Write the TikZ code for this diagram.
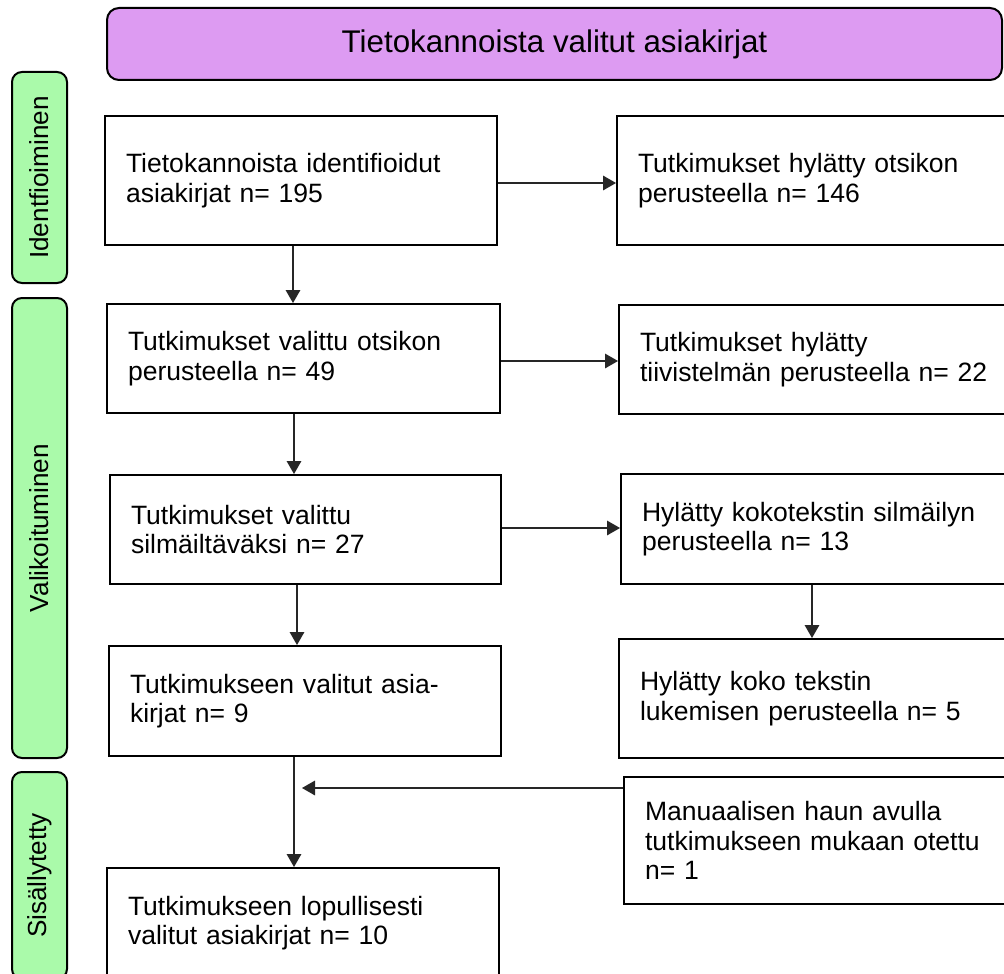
\documentclass[tikz,border=0pt]{standalone}
\usepackage{fontspec}
\setmainfont{Liberation Sans}
\usetikzlibrary{arrows.meta}
\definecolor{purplefill}{RGB}{221,155,242}
\definecolor{greenfill}{RGB}{170,250,170}
\tikzset{
  flowbox/.style={draw=black, line width=1.5pt, fill=white, rectangle, align=left,
    inner xsep=15.75pt, inner ysep=0pt,
    font=\fontsize{19.9pt}{22.1pt}\selectfont},
  phase/.style={draw=black, line width=1.5pt, fill=greenfill, rounded corners=7.5pt,
    rotate=90, minimum height=41.25pt, inner sep=0pt,
    font=\fontsize{19.6pt}{22pt}\selectfont},
  titlebox/.style={draw=black, line width=1.5pt, fill=purplefill, rounded corners=9pt,
    minimum width=671.25pt, minimum height=54pt, inner sep=0pt,
    font=\fontsize{23.5pt}{28pt}\selectfont},
  arr/.style={draw=black!85, line width=0.8pt, -{Triangle[length=9.75pt,width=11pt]}}
}
\begin{document}
\begin{tikzpicture}[x=0.75pt,y=-0.75pt]
\useasboundingbox (0,0) rectangle (1004,974);

% title
\node[titlebox] (title) at (554.5,44) {Tietokannoista valitut asiakirjat};

% phases
\node[phase, minimum width=158.25pt] (g1) at (39.5,177.5) {Identfioiminen};
\node[phase, minimum width=345pt] (g2) at (39.5,528) {Valikoituminen};
\node[phase, minimum width=155.25pt] (g3) at (39.5,875.5) {Sisällytetty};

% left column
\node[flowbox, minimum width=294pt, minimum height=96.75pt, text width=262.5pt] (b1) at (301,180.5)
  {Tietokannoista identifioidut\\asiakirjat n= 195};
\node[flowbox, minimum width=294.75pt, minimum height=81.75pt, text width=263.25pt] (b2) at (303.5,358.5)
  {Tutkimukset valittu otsikon\\perusteella n= 49};
\node[flowbox, minimum width=293.25pt, minimum height=81.75pt, text width=261.75pt] (b3) at (305.5,529.5)
  {Tutkimukset valittu\\silmäiltäväksi n= 27};
\node[flowbox, minimum width=294pt, minimum height=82.5pt, text width=262.5pt] (b4) at (305,701)
  {Tutkimukseen valitut asia-\\kirjat n= 9};
\node[flowbox, minimum width=294pt, minimum height=82.5pt, text width=262.5pt] (b5) at (303,923)
  {Tutkimukseen lopullisesti\\valitut asiakirjat n= 10};

% right column
\node[flowbox, minimum width=294.75pt, minimum height=96.75pt, text width=263.25pt] (r1) at (813.5,180.5)
  {Tutkimukset hylätty otsikon\\perusteella n= 146};
\node[flowbox, minimum width=293.25pt, minimum height=81.75pt, text width=261.75pt] (r2) at (814.5,359.5)
  {Tutkimukset hylätty\\tiivistelmän perusteella n= 22};
\node[flowbox, minimum width=291.75pt, minimum height=82.5pt, text width=260.25pt] (r3) at (815.5,529)
  {Hylätty kokotekstin silmäilyn\\perusteella n= 13};
\node[flowbox, minimum width=293.25pt, minimum height=89.25pt, text width=261.75pt] (r4) at (814.5,698.5)
  {Hylätty koko tekstin\\lukemisen perusteella n= 5};
\node[flowbox, minimum width=289.5pt, minimum height=95.25pt, text width=258pt] (r5) at (817,840.5)
  {Manuaalisen haun avulla\\tutkimukseen mukaan otettu\\n= 1};

% helper coordinates
\coordinate (v1) at (293,0);
\coordinate (v2) at (294,0);
\coordinate (v3) at (297,0);
\coordinate (v4) at (294,0);
\coordinate (v5) at (812,0);
\coordinate (h1) at (0,183);
\coordinate (h2) at (0,361);
\coordinate (h3) at (0,528);
\coordinate (m) at (302,788);

% vertical arrows
\draw[arr] (b1.south -| v1) -- (b2.north -| v1);
\draw[arr] (b2.south -| v2) -- (b3.north -| v2);
\draw[arr] (b3.south -| v3) -- (b4.north -| v3);
\draw[arr] (b4.south -| v4) -- (b5.north -| v4);
\draw[arr] (r3.south -| v5) -- (r4.north -| v5);

% horizontal arrows
\draw[arr] (b1.east |- h1) -- (r1.west |- h1);
\draw[arr] (b2.east |- h2) -- (r2.west |- h2);
\draw[arr] (b3.east |- h3) -- (r3.west |- h3);
\draw[arr] (r5.west |- m) -- (m);
\end{tikzpicture}
\end{document}
